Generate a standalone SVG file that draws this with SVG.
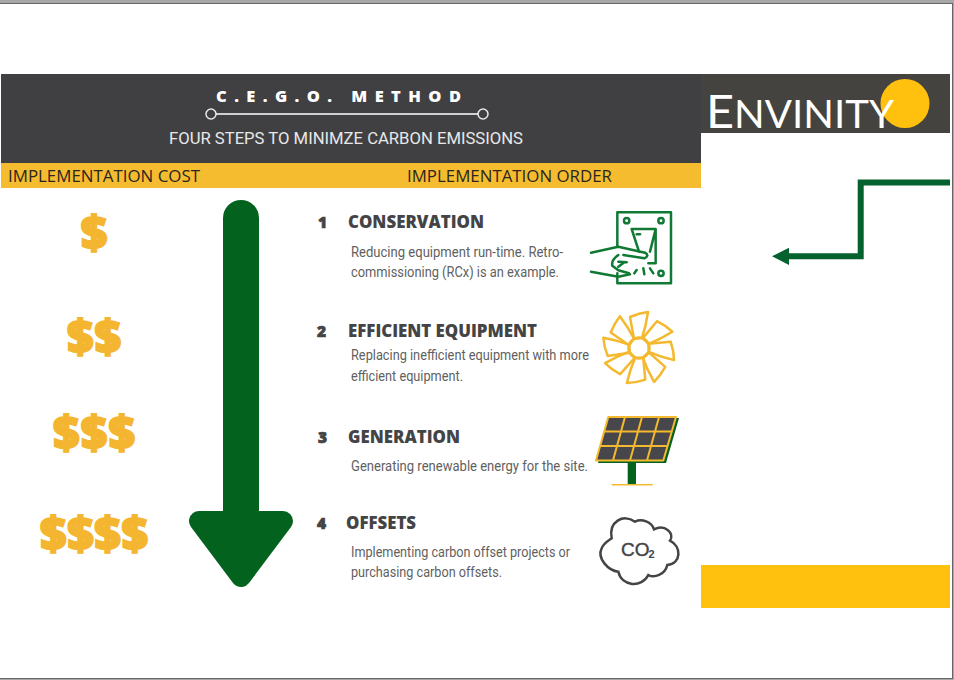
<svg xmlns="http://www.w3.org/2000/svg" width="954" height="680" viewBox="0 0 954 680">
<defs><style>
.title{font-family:"Open Sans",sans-serif;font-weight:800;fill:#fff}
.band{font-family:"Open Sans",sans-serif;font-size:17px;fill:#2b2620}
.sub{font-family:Roboto,sans-serif;font-size:17px;fill:#e8e8e8}
.num{font-family:"Open Sans",sans-serif;font-weight:800;font-size:15.5px;fill:#444446;stroke:#444446;stroke-width:.7px}
.head{font-family:"Open Sans",sans-serif;font-weight:800;font-size:17px;fill:#444446}
.body{font-family:Roboto,sans-serif;font-size:14.5px;fill:#5f5f61}
.dollar{font-family:"Open Sans",sans-serif;font-weight:800;font-size:46px;fill:#f4b630;stroke:#f4b630;stroke-width:2px;text-anchor:middle}
.sw{fill:none;stroke:#107a35;stroke-width:7.5;stroke-linecap:round;stroke-linejoin:round}
.fan{fill:none;stroke:#f4b92f;stroke-width:2.5;stroke-linejoin:round}
</style>
<path id="blade" d="M-5-9L-9-31Q0-35 9-36Q7-22 3-10Z"/>
</defs>
<rect width="954" height="680" fill="#fff"/>
<g id="frame">
<rect width="954" height="3" fill="#a8a8a8"/>
<rect y="3" width="953" height="1" fill="#666"/>
<rect x="953" width="1" height="680" fill="#a8a8a8"/>
<rect x="952" y="3" width="1" height="676" fill="#666"/>
<rect y="679" width="954" height="1" fill="#a8a8a8"/>
<rect y="678" width="953" height="1" fill="#666"/>
</g>
<g id="header">
<rect x="1" y="74" width="700" height="89" fill="#404043"/>
<rect x="1" y="163" width="700" height="25" fill="#f5bc30"/>
<text class="title" x="216" y="102" font-size="16.500" textLength="245">C.E.G.O. METHOD</text>
<circle cx="211" cy="114" r="5" fill="none" stroke="#e8e8e8" stroke-width="1.500"/>
<circle cx="483" cy="114" r="5" fill="none" stroke="#e8e8e8" stroke-width="1.500"/>
<line x1="216" y1="114" x2="478" y2="114" stroke="#fff" stroke-width="1.500"/>
<text class="sub" x="169" y="144" textLength="354" lengthAdjust="spacingAndGlyphs">FOUR STEPS TO MINIMZE CARBON EMISSIONS</text>
<text class="band" x="8" y="182" textLength="192" lengthAdjust="spacingAndGlyphs">IMPLEMENTATION COST</text>
<text class="band" x="407" y="182" textLength="205" lengthAdjust="spacingAndGlyphs">IMPLEMENTATION ORDER</text>
</g>
<g id="logo">
<rect x="701" y="74" width="249" height="59" fill="#44433f"/>
<circle cx="905" cy="103.500" r="24.500" fill="#ffc00e"/>
<text x="706" y="128" font-family="Lato,sans-serif" font-size="46" fill="#fff" textLength="188" lengthAdjust="spacingAndGlyphs">E<tspan font-size="38">NVINITY</tspan></text>
</g>
<g id="cost">
<text class="dollar" x="94" y="249">$</text>
<text class="dollar" x="94" y="353" textLength="54">$$</text>
<text class="dollar" x="94" y="449" textLength="82">$$$</text>
<text class="dollar" x="94" y="550" textLength="108">$$$$</text>
</g>
<g id="big-arrow" fill="#04621f">
<rect x="223" y="200" width="36" height="330" rx="18"/>
<path d="M199 521H283L241 577Z" stroke="#04621f" stroke-width="20" stroke-linejoin="round"/>
</g>
<g id="step1">
<text class="num" x="318" y="227.500">1</text>
<text class="head" x="348" y="228" textLength="136" lengthAdjust="spacingAndGlyphs">CONSERVATION</text>
<text class="body" x="351" y="257" textLength="212" lengthAdjust="spacingAndGlyphs">Reducing equipment run-time. Retro-</text>
<text class="body" x="351" y="277" textLength="208" lengthAdjust="spacingAndGlyphs">commissioning (RCx) is an example.</text>
<g id="icon-switch" class="sw" transform="translate(585 205) scale(.3333)">
<path d="M97 125V22H258V235H97V205"/>
<circle cx="125" cy="47" r="8"/><circle cx="228" cy="47" r="8"/><circle cx="228" cy="205" r="8"/>
<path d="M140 72H212V175H190M140 72L162 140M212 72L195 140"/>
<path d="M155 88H165"/>
<path d="M18 143L100 125L180 143Q195 152 178 160L115 150"/>
<path d="M18 200L100 215L135 208M100 150Q78 165 82 182L100 196L132 205M100 170L125 172M100 185L118 172"/>
<path d="M148 205L155 195M175 190L178 208M195 190L205 205"/>
</g>
</g>
<g id="step2">
<text class="num" x="317" y="336.500">2</text>
<text class="head" x="348" y="337" textLength="189" lengthAdjust="spacingAndGlyphs">EFFICIENT EQUIPMENT</text>
<text class="body" x="351" y="360" textLength="238" lengthAdjust="spacingAndGlyphs">Replacing inefficient equipment with more</text>
<text class="body" x="351" y="381" textLength="112" lengthAdjust="spacingAndGlyphs">efficient equipment.</text>
<g id="icon-fan" class="fan" transform="translate(639 348)">
<circle r="10.500"/>
<use href="#blade"/>
<use href="#blade" transform="rotate(50)"/>
<use href="#blade" transform="rotate(95)"/>
<use href="#blade" transform="rotate(142)"/>
<use href="#blade" transform="rotate(185)"/>
<use href="#blade" transform="rotate(232)"/>
<use href="#blade" transform="rotate(272)"/>
<use href="#blade" transform="rotate(315)"/>
</g>
</g>
<g id="step3">
<text class="num" x="318" y="442.500">3</text>
<text class="head" x="348" y="442.500" textLength="112" lengthAdjust="spacingAndGlyphs">GENERATION</text>
<text class="body" x="351" y="471" textLength="237" lengthAdjust="spacingAndGlyphs">Generating renewable energy for the site.</text>
<g id="icon-solar">
<path d="M610 418H679L666 463H598Z" fill="#04621f"/>
<path d="M608.300 417H676L663.300 460.500H596Z" fill="#47474b" stroke="#f4b92f" stroke-width="2" stroke-linejoin="round"/>
<path d="M625 417L613 460.500M642 417L630 460.500M659 417L647 460.500M604 431.500H671.500M600 446H667.500" fill="none" stroke="#f4b92f" stroke-width="2"/>
<rect x="627.700" y="463" width="8.300" height="21" fill="#04621f"/>
<rect x="611.700" y="484" width="41" height="1.500" fill="#f4b92f"/>
</g>
</g>
<g id="step4">
<text class="num" x="317" y="529">4</text>
<text class="head" x="346" y="529" textLength="70" lengthAdjust="spacingAndGlyphs">OFFSETS</text>
<text class="body" x="351" y="557" textLength="219" lengthAdjust="spacingAndGlyphs">Implementing carbon offset projects or</text>
<text class="body" x="351" y="577" textLength="151" lengthAdjust="spacingAndGlyphs">purchasing carbon offsets.</text>
<g id="icon-co2">
<path transform="translate(580 300) scale(.3333)" d="M95 715C85 665 130 640 165 665C185 655 215 665 222 688C255 672 285 700 270 722C305 740 305 790 262 795C255 825 222 835 205 825C185 865 125 860 115 815C85 812 50 775 65 745C72 728 85 722 95 715Z" fill="none" stroke="#444446" stroke-width="7.500"/>
<text x="621" y="556" font-family="Liberation Sans,sans-serif" font-size="19" stroke="#444446" stroke-width=".4" fill="#444446">CO</text>
<text x="648.500" y="558" font-family="Liberation Sans,sans-serif" font-weight="700" font-size="11" fill="#444446">2</text>
</g>
</g>
<g id="connectors">
<path d="M950 182.500H860.700V256.300H786" fill="none" stroke="#04622f" stroke-width="6"/>
<path d="M772 256.300L789 247.700V264.900Z" fill="#04622f"/>
</g>
<rect id="yellow-block" x="701" y="565" width="249" height="43" fill="#ffc00e"/>
</svg>
